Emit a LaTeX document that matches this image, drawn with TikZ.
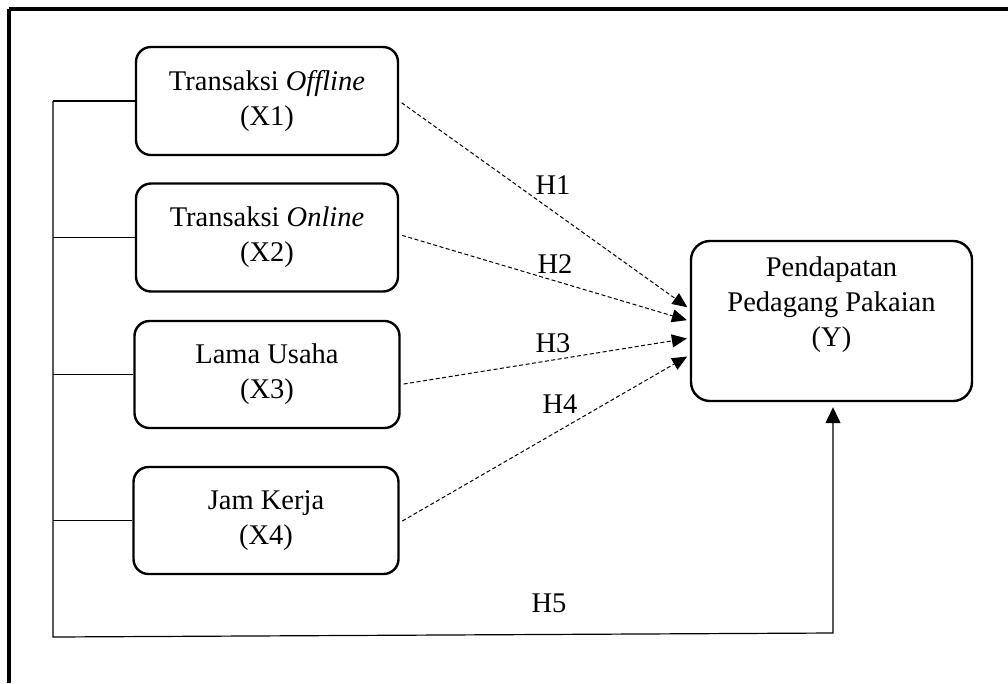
\documentclass[tikz,border=0pt]{standalone}
\usepackage{fontspec}
\setmainfont{Liberation Serif}
\usepackage{tikz}
\usetikzlibrary{arrows.meta, positioning}

\begin{document}
\begin{tikzpicture}[x=1pt, y=-1pt,
    varbox/.style={draw, line width=2.4pt, rounded corners=15pt, align=center,
        minimum width=262pt, minimum height=108pt, inner sep=0pt,
        font=\fontsize{28.5}{35}\selectfont},
    ybox/.style={varbox, rounded corners=19pt, minimum width=281pt, minimum height=160pt},
    hyp/.style={line width=1pt, dash pattern=on 4pt off 2.5pt,
        -{Triangle[length=15pt, width=13pt]}, shorten <=3pt, shorten >=3pt},
    hlabel/.style={font=\fontsize{28.5}{35}\selectfont, inner sep=0pt}]
    \fill[white] (0,0) rectangle (1008,683);
    \useasboundingbox (0,0) rectangle (1008,683);

    % frame
    \draw[line width=3.5pt] (9,9) -- (1008,9);
    \draw[line width=3.5pt] (9,9) -- (9,683);

    % variables
    \node[varbox] (x1) at (267,101) {Transaksi \textit{Offline}\\(X1)};
    \node[varbox] (x2) at (267,237.5) {Transaksi \textit{Online}\\(X2)};
    \node[varbox, minimum width=265pt, minimum height=107pt] (x3) at (267,374.5) {Lama Usaha\\(X3)};
    \node[varbox, minimum width=265pt, minimum height=107pt] (x4) at (266,520.5) {Jam Kerja\\(X4)};
    \node[ybox] (y) at (831.5,321) {Pendapatan\\Pedagang Pakaian\\(Y)\\[4pt]};

    % simultaneous path
    \coordinate (spinetop) at (53,101);
    \coordinate (spinebot) at (53,637);
    \coordinate (turn) at (833,633);
    \foreach \v in {x1,x2,x3,x4}
        \draw[line width=1.3pt] (\v.west) -- (\v.west -| spinetop);
    \draw[line width=1.2pt, -{Triangle[length=16pt, width=15pt]}, shorten >=5pt]
        (spinetop) -- (spinebot) -- (turn) -- (turn |- y.south);

    % partial paths
    \draw[hyp] (x1.east) -- ([yshift=12pt]y.west);
    \draw[hyp] ([yshift=3pt]x2.east) -- ([yshift=0pt]y.west);
    \draw[hyp] ([yshift=-10pt]x3.east) -- ([yshift=-17pt]y.west);
    \draw[hyp] ([yshift=-2pt]x4.east) -- ([yshift=-34pt]y.west);

    \node[hlabel] (h1) at (553,185) {H1};
    \node[hlabel] (h2) at (555,264) {H2};
    \node[hlabel] (h3) at (553,343) {H3};
    \node[hlabel] (h4) at (560,404) {H4};
    \node[hlabel] (h5) at (549,603) {H5};
\end{tikzpicture}
\end{document}
